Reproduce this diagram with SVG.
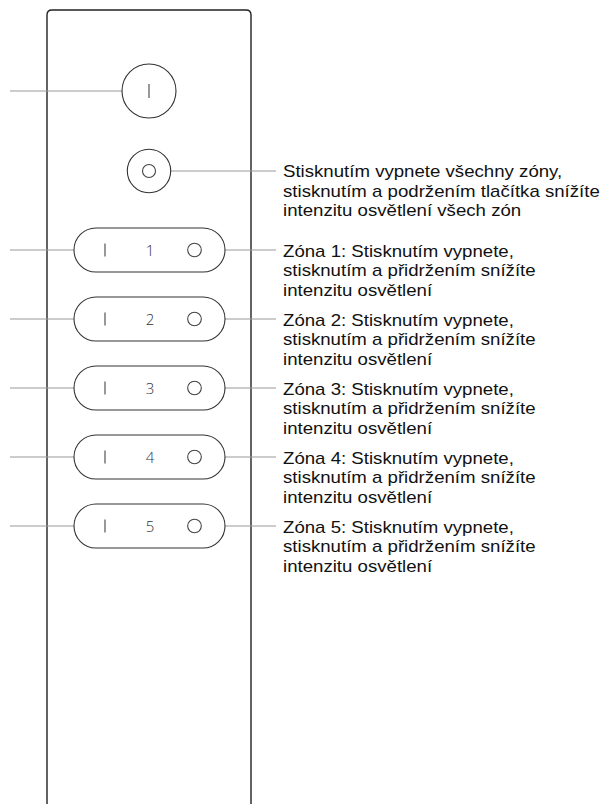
<svg xmlns="http://www.w3.org/2000/svg" width="602" height="804" viewBox="0 0 602 804">
<style>
.body{fill:none;stroke:#222;stroke-width:1.4}
.btn{fill:#fff;stroke:#333;stroke-width:1.1}
.glyph{fill:none;stroke:#444;stroke-width:1.1}
.num{font-family:"Open Sans","Liberation Sans",sans-serif;font-size:15px;font-weight:300;fill:#333;text-anchor:middle}
.conn{stroke:#999;stroke-width:1.2;fill:none}
.lbl{font-family:"Liberation Sans",Arial,sans-serif;font-size:16px;fill:#111}
</style>
<rect width="602" height="804" fill="#fff"/>
<g id="remote">
<path class="body" d="M47,804 V15 Q47,10 52,10 H246 Q251,10 251,15 V804"/>
</g>
<g id="connectors">
<line class="conn" x1="10" y1="91" x2="122" y2="91"/>
<line class="conn" x1="171" y1="171" x2="276" y2="171"/>
<line class="conn" x1="10" y1="250" x2="88" y2="250"/><line class="conn" x1="211" y1="250" x2="276" y2="250"/>
<line class="conn" x1="10" y1="319" x2="88" y2="319"/><line class="conn" x1="211" y1="319" x2="276" y2="319"/>
<line class="conn" x1="10" y1="388" x2="88" y2="388"/><line class="conn" x1="211" y1="388" x2="276" y2="388"/>
<line class="conn" x1="10" y1="457" x2="88" y2="457"/><line class="conn" x1="211" y1="457" x2="276" y2="457"/>
<line class="conn" x1="10" y1="526" x2="88" y2="526"/><line class="conn" x1="211" y1="526" x2="276" y2="526"/>
</g>
<g id="btn-on">
<circle class="btn" cx="149" cy="91" r="27"/>
<line class="glyph" x1="149" y1="84" x2="149" y2="98"/>
</g>
<g id="btn-off">
<circle class="btn" cx="149" cy="171" r="21.7"/>
<circle class="glyph" cx="149" cy="171" r="6.5"/>
<g transform="translate(283 0) scale(1.165 1)">
<text class="lbl" x="0" y="177.5">Stisknutím vypnete všechny zóny,</text>
<text class="lbl" x="0" y="197">stisknutím a podržením tlačítka snížíte</text>
<text class="lbl" x="0" y="216.5">intenzitu osvětlení všech zón</text>
</g>
</g>
<g id="zone1">
<rect class="btn" x="74" y="228" width="151" height="44" rx="22"/>
<line class="glyph" x1="105" y1="243.5" x2="105" y2="256.5"/>
<text class="num" x="150" y="255.5">1</text>
<circle class="glyph" cx="194.5" cy="250" r="6.8"/>
<g transform="translate(283 0) scale(1.165 1)">
<text class="lbl" x="0" y="257">Zóna 1: Stisknutím vypnete,</text>
<text class="lbl" x="0" y="276.5">stisknutím a přidržením snížíte</text>
<text class="lbl" x="0" y="296">intenzitu osvětlení</text>
</g>
</g>
<g id="zone2">
<rect class="btn" x="74" y="297" width="151" height="44" rx="22"/>
<line class="glyph" x1="105" y1="312.5" x2="105" y2="325.5"/>
<text class="num" x="150" y="324.5">2</text>
<circle class="glyph" cx="194.5" cy="319" r="6.8"/>
<g transform="translate(283 0) scale(1.165 1)">
<text class="lbl" x="0" y="326">Zóna 2: Stisknutím vypnete,</text>
<text class="lbl" x="0" y="345.5">stisknutím a přidržením snížíte</text>
<text class="lbl" x="0" y="365">intenzitu osvětlení</text>
</g>
</g>
<g id="zone3">
<rect class="btn" x="74" y="366" width="151" height="44" rx="22"/>
<line class="glyph" x1="105" y1="381.5" x2="105" y2="394.5"/>
<text class="num" x="150" y="393.5">3</text>
<circle class="glyph" cx="194.5" cy="388" r="6.8"/>
<g transform="translate(283 0) scale(1.165 1)">
<text class="lbl" x="0" y="395">Zóna 3: Stisknutím vypnete,</text>
<text class="lbl" x="0" y="414.5">stisknutím a přidržením snížíte</text>
<text class="lbl" x="0" y="434">intenzitu osvětlení</text>
</g>
</g>
<g id="zone4">
<rect class="btn" x="74" y="435" width="151" height="44" rx="22"/>
<line class="glyph" x1="105" y1="450.5" x2="105" y2="463.5"/>
<text class="num" x="150" y="462.5">4</text>
<circle class="glyph" cx="194.5" cy="457" r="6.8"/>
<g transform="translate(283 0) scale(1.165 1)">
<text class="lbl" x="0" y="464">Zóna 4: Stisknutím vypnete,</text>
<text class="lbl" x="0" y="483.5">stisknutím a přidržením snížíte</text>
<text class="lbl" x="0" y="503">intenzitu osvětlení</text>
</g>
</g>
<g id="zone5">
<rect class="btn" x="74" y="504" width="151" height="44" rx="22"/>
<line class="glyph" x1="105" y1="519.5" x2="105" y2="532.5"/>
<text class="num" x="150" y="531.5">5</text>
<circle class="glyph" cx="194.5" cy="526" r="6.8"/>
<g transform="translate(283 0) scale(1.165 1)">
<text class="lbl" x="0" y="533">Zóna 5: Stisknutím vypnete,</text>
<text class="lbl" x="0" y="552.5">stisknutím a přidržením snížíte</text>
<text class="lbl" x="0" y="572">intenzitu osvětlení</text>
</g>
</g>
</svg>
